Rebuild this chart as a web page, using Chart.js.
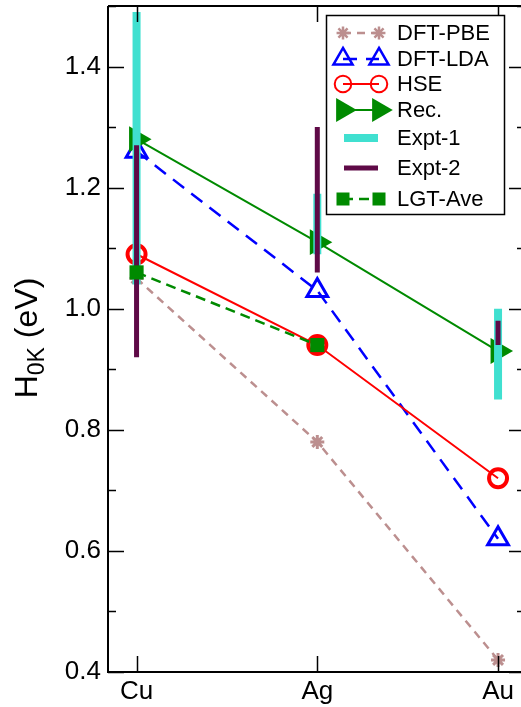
<!DOCTYPE html>
<html>
<head>
<meta charset="utf-8">
<script src="https://cdn.jsdelivr.net/npm/chart.js@4/dist/chart.umd.min.js"></script>
<style>
  html, body { margin: 0; padding: 0; background: #fff; }
  #wrap { width: 521px; height: 707px; }
</style>
</head>
<body>
<div id="wrap"><canvas id="hChart" width="521" height="707"></canvas></div>
<script>
// data
const elements = ['Cu', 'Ag', 'Au'];
const xPos = [1, 2, 3];
const yTicks = [0.4, 0.6, 0.8, 1.0, 1.2, 1.4];

const dftPbe = [1.05, 0.78, 0.42];
const dftLda = [1.26, 1.03, 0.62];
const hse = [1.09, 0.94, 0.72];
const rec = [1.28, 1.11, 0.93];
const expt1Low = [1.04, 1.09, 0.85];
const expt1High = [1.49, 1.19, 1.00];
const expt2Low = [0.92, 1.06, 0.94];
const expt2High = [1.27, 1.30, 0.98];
const lgtAve = [1.06, 0.94, null];

const FONT = "'Liberation Sans', Arial, sans-serif";

function pts(arr) {
  return xPos.map((x, i) => ({ x: x, y: arr[i] }));
}
function bars(lo, hi) {
  return xPos.flatMap((x, i) => [{ x: x, y: lo[i] }, { x: x, y: hi[i] }, { x: x, y: null }]);
}

const datasets = [
  { label: 'DFT-PBE', data: pts(dftPbe), borderColor: '#bc8f8f', backgroundColor: '#bc8f8f',
    borderWidth: 2.5, borderDash: [8, 6], pointStyle: 'star', pointRadius: 7, pointBorderWidth: 3 },
  { label: 'DFT-LDA', data: pts(dftLda), borderColor: '#0000ff', backgroundColor: 'rgba(0,0,0,0)',
    borderWidth: 2.5, borderDash: [14, 9], pointStyle: 'triangle', pointRadius: 12, pointBorderWidth: 3 },
  { label: 'HSE', data: pts(hse), borderColor: '#ff0000', backgroundColor: 'rgba(0,0,0,0)',
    borderWidth: 2, pointStyle: 'circle', pointRadius: 9, pointBorderWidth: 4 },
  { label: 'Rec.', data: pts(rec), borderColor: '#008a00', backgroundColor: '#008a00',
    borderWidth: 2, pointStyle: 'triangle', pointRotation: 90, pointRadius: 15, pointBorderWidth: 0 },
  { label: 'Expt-1', data: bars(expt1Low, expt1High), borderColor: '#40e0d0',
    borderWidth: 8, borderCapStyle: 'butt', pointRadius: 0, spanGaps: false, bar: true },
  { label: 'Expt-2', data: bars(expt2Low, expt2High), borderColor: '#5f0a47',
    borderWidth: 5, borderCapStyle: 'butt', pointRadius: 0, spanGaps: false, bar: true },
  { label: 'LGT-Ave', data: pts(lgtAve), borderColor: '#008a00', backgroundColor: '#008a00',
    borderWidth: 2.5, borderDash: [10, 6], pointStyle: 'rect', pointRadius: 10, pointBorderWidth: 0 }
];
// later datasets on top
datasets.forEach((d, i) => { d.order = datasets.length - i; d.fill = false; d.tension = 0; });

// frame + inward ticks on all four sides
const framePlugin = {
  id: 'frame',
  afterDraw(chart) {
    const { ctx, chartArea: a, scales } = chart;
    ctx.save();
    ctx.strokeStyle = '#000';
    ctx.lineWidth = 2;
    ctx.beginPath();
    ctx.moveTo(a.left, a.top); ctx.lineTo(a.left, a.bottom); ctx.lineTo(a.right, a.bottom);
    ctx.moveTo(a.left, a.top); ctx.lineTo(a.right, a.top);
    ctx.stroke();
    ctx.lineWidth = 1.5;
    ctx.beginPath();
    scales.y.ticks.forEach(t => {
      const y = Math.round(scales.y.getPixelForValue(t.value)) + 0.5;
      const major = Math.round(t.value * 10) % 2 === 0;
      ctx.moveTo(a.left, y); ctx.lineTo(a.left + (major ? 16 : 8), y);
      ctx.moveTo(a.right, y); ctx.lineTo(a.right - (major ? 12 : 4), y);
    });
    scales.x.ticks.forEach(t => {
      const x = Math.round(scales.x.getPixelForValue(t.value)) + 0.5;
      ctx.moveTo(x, a.bottom); ctx.lineTo(x, a.bottom - 16);
      ctx.moveTo(x, a.top); ctx.lineTo(x, a.top + 16);
    });
    ctx.stroke();

    // y axis title with subscript
    ctx.translate(37, 338);
    ctx.rotate(-Math.PI / 2);
    ctx.fillStyle = '#000';
    ctx.textBaseline = 'alphabetic';
    const big = '32px ' + FONT, small = '23px ' + FONT;
    ctx.font = big; const wH = ctx.measureText('H').width; const wE = ctx.measureText(' (eV)').width;
    ctx.font = small; const wS = ctx.measureText('0K').width;
    let x0 = -(wH + wS + wE) / 2;
    ctx.font = big; ctx.fillText('H', x0, 0);
    ctx.font = small; ctx.fillText('0K', x0 + wH, 7);
    ctx.font = big; ctx.fillText(' (eV)', x0 + wH + wS, 0);
    ctx.restore();
  }
};

// legend with two markers joined by the series line
const legendPlugin = {
  id: 'sampleLegend',
  afterDraw(chart) {
    const ctx = chart.ctx;
    const rows = [33, 59, 84, 110, 138, 168, 199];
    ctx.save();
    ctx.fillStyle = '#fff';
    ctx.fillRect(326, 15, 178, 199);
    ctx.strokeStyle = '#000';
    ctx.lineWidth = 1.5;
    ctx.strokeRect(326.5, 15.5, 178, 199);
    chart.data.datasets.forEach((d, i) => {
      const y = rows[i];
      ctx.save();
      ctx.strokeStyle = d.borderColor;
      ctx.lineCap = 'butt';
      if (d.bar) {
        ctx.lineWidth = d.borderWidth;
        ctx.beginPath(); ctx.moveTo(344, y); ctx.lineTo(378, y); ctx.stroke();
      } else {
        ctx.lineWidth = d.borderWidth;
        ctx.setLineDash(d.borderDash || []);
        ctx.beginPath(); ctx.moveTo(343, y); ctx.lineTo(379, y); ctx.stroke();
        ctx.setLineDash([]);
        ctx.fillStyle = d.backgroundColor;
        [343, 379].forEach(px => {
          Chart.helpers.drawPoint(ctx, {
            pointStyle: d.pointStyle, rotation: d.pointRotation || 0,
            radius: d.pointRadius * 0.92, borderWidth: d.pointBorderWidth
          }, px, y);
        });
      }
      ctx.restore();
      ctx.fillStyle = '#000';
      ctx.font = '22px ' + FONT;
      ctx.textBaseline = 'middle';
      ctx.fillText(d.label, 397, y + 1);
    });
    ctx.restore();
  }
};

Chart.defaults.color = '#000';
Chart.defaults.font.family = FONT;

new Chart(document.getElementById('hChart').getContext('2d'), {
  type: 'line',
  data: { datasets: datasets },
  options: {
    responsive: false,
    animation: false,
    layout: { autoPadding: false, padding: { top: 6, right: 0, left: 0, bottom: 0 } },
    plugins: { legend: { display: false }, tooltip: { enabled: false } },
    scales: {
      x: {
        type: 'linear', min: 0.842, max: 3.127,
        afterBuildTicks: s => { s.ticks = xPos.map(v => ({ value: v })); },
        afterFit: s => { s.height = 35; s.paddingLeft = 0; s.paddingRight = 0; },
        grid: { display: false, drawTicks: false },
        border: { display: false },
        ticks: { font: { size: 26 }, padding: 4, maxRotation: 0,
          callback: v => elements[xPos.indexOf(v)] }
      },
      y: {
        min: 0.4, max: 1.5,
        afterFit: s => { s.width = 108; s.paddingTop = 0; s.paddingBottom = 0; },
        grid: { display: false, drawTicks: false },
        border: { display: false },
        ticks: { stepSize: 0.1, font: { size: 26 }, padding: 7,
          callback: v => {
            const t = yTicks.find(k => Math.abs(k - v) < 1e-6);
            return t === undefined ? '' : t.toFixed(1);
          } }
      }
    }
  },
  plugins: [framePlugin, legendPlugin]
});
</script>
</body>
</html>
